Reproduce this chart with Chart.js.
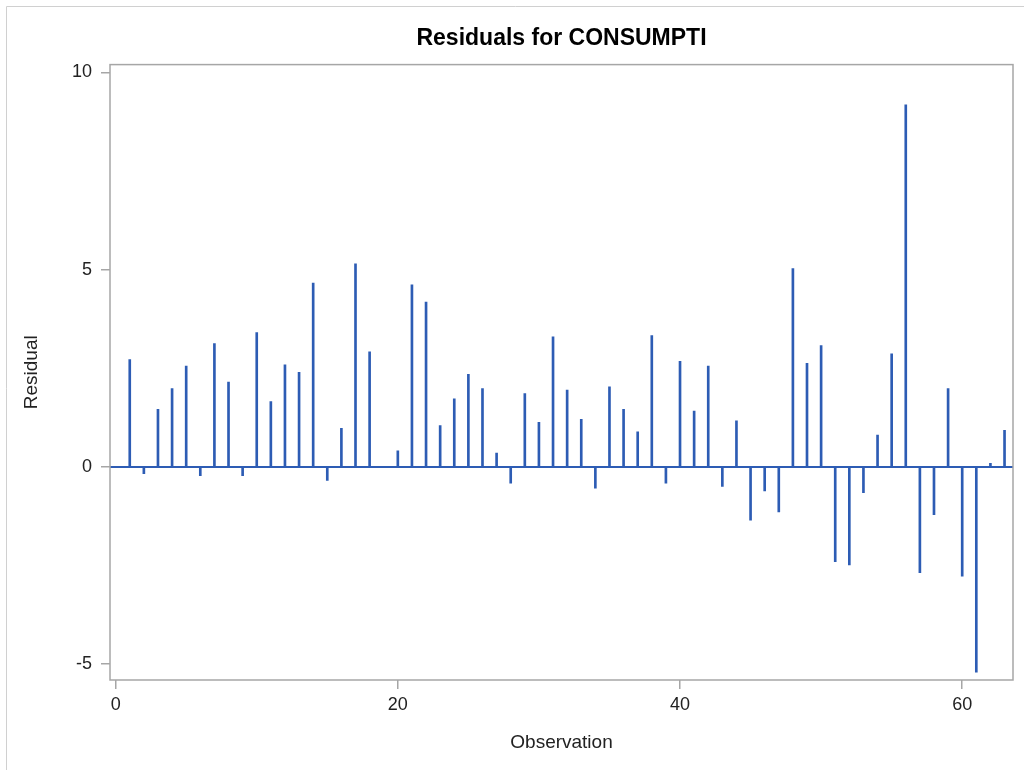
<!DOCTYPE html>
<html>
<head>
<meta charset="utf-8">
<title>Residuals for CONSUMPTI</title>
<script src="https://cdn.jsdelivr.net/npm/chart.js@4/dist/chart.umd.min.js"></script>
<style>
  body { margin: 0; background: #fff; }
  #wrap { position: absolute; left: 0; top: 0; width: 1024px; height: 770px; }
</style>
</head>
<body>
<div id="wrap"><canvas id="resChart" width="1024" height="770"></canvas></div>
<script>
// observation numbers and their residuals
var observations = [1, 2, 3, 4, 5, 6, 7, 8, 9, 10,
                    11, 12, 13, 14, 15, 16, 17, 18, 19, 20,
                    21, 22, 23, 24, 25, 26, 27, 28, 29, 30,
                    31, 32, 33, 34, 35, 36, 37, 38, 39, 40,
                    41, 42, 43, 44, 45, 46, 47, 48, 49, 50,
                    51, 52, 53, 54, 55, 56, 57, 58, 59, 60,
                    61, 62, 63];
var residuals = [2.72, -0.17, 1.46, 1.99, 2.56, -0.22, 3.13, 2.15, -0.22, 3.41,
                 1.66, 2.59, 2.40, 4.66, -0.34, 0.98, 5.15, 2.92, 0, 0.41,
                 4.62, 4.18, 1.05, 1.73, 2.35, 1.99, 0.35, -0.41, 1.86, 1.13,
                 3.30, 1.95, 1.21, -0.54, 2.03, 1.46, 0.89, 3.33, -0.41, 2.68,
                 1.42, 2.56, -0.49, 1.17, -1.35, -0.61, -1.14, 5.03, 2.63, 3.08,
                 -2.40, -2.48, -0.65, 0.81, 2.87, 9.18, -2.68, -1.21, 1.99, -2.77,
                 -5.20, 0.09, 0.93];
var xTicks = [0, 20, 40, 60];
var yTicks = [-5, 0, 5, 10];

var needleColor = '#2d5cb4';
var frameColor = '#a6a6a6';
var fontFamily = '"Liberation Sans", Arial, sans-serif';

// frame around plot + zero reference line + outer page border
var framePlugin = {
    id: 'frame',
    beforeDraw: function(chart) {
        var ctx = chart.ctx;
        ctx.save();
        ctx.strokeStyle = '#d0d0d0';
        ctx.lineWidth = 1;
        ctx.beginPath();
        ctx.moveTo(6.5, 770);
        ctx.lineTo(6.5, 6.5);
        ctx.lineTo(1024, 6.5);
        ctx.stroke();
        ctx.restore();
    },
    afterDatasetsDraw: function(chart) {
        var ctx = chart.ctx, a = chart.chartArea;
        var y0 = chart.scales.y.getPixelForValue(0);
        ctx.save();
        ctx.strokeStyle = needleColor;
        ctx.lineWidth = 2;
        ctx.beginPath();
        ctx.moveTo(a.left, y0);
        ctx.lineTo(a.right, y0);
        ctx.stroke();
        ctx.strokeStyle = frameColor;
        ctx.lineWidth = 1.5;
        ctx.strokeRect(a.left, a.top, a.right - a.left, a.bottom - a.top);
        ctx.restore();
    }
};

var points = observations.map(function(o, i) { return { x: o, y: residuals[i] }; });

new Chart(document.getElementById('resChart'), {
    type: 'bar',
    data: {
        datasets: [{
            data: points,
            backgroundColor: needleColor,
            borderWidth: 0,
            barThickness: 2
        }]
    },
    options: {
        responsive: false,
        animation: false,
        devicePixelRatio: 1,
        layout: { padding: { left: 0, top: 0, right: 11, bottom: 0 } },
        plugins: {
            legend: { display: false },
            tooltip: { enabled: false },
            title: {
                display: true,
                text: 'Residuals for CONSUMPTI',
                fullSize: false,
                color: '#000',
                font: { family: fontFamily, size: 23, weight: 'bold' },
                padding: { top: 25, bottom: 12 }
            }
        },
        scales: {
            x: {
                type: 'linear',
                offset: false,
                min: -0.4,
                max: 63.6,
                afterBuildTicks: function(s) { s.ticks = xTicks.map(function(v) { return { value: v }; }); },
                afterFit: function(s) { s.height = 90; },
                grid: { display: true, offset: false, drawOnChartArea: false, drawTicks: true, tickLength: 9, color: frameColor, lineWidth: 1.5 },
                border: { display: false },
                ticks: { color: '#222', font: { family: fontFamily, size: 18 }, padding: 5, maxRotation: 0 },
                title: { display: true, text: 'Observation', color: '#222', font: { family: fontFamily, size: 19 }, padding: { top: 0, bottom: 16 } }
            },
            y: {
                type: 'linear',
                min: -5.4,
                max: 10.2,
                afterBuildTicks: function(s) { s.ticks = yTicks.map(function(v) { return { value: v }; }); },
                afterFit: function(s) { s.width = 110; },
                grid: { display: true, drawOnChartArea: false, drawTicks: true, tickLength: 9, color: frameColor, lineWidth: 1.5 },
                border: { display: false },
                ticks: { color: '#222', font: { family: fontFamily, size: 18 }, padding: 9 },
                title: { display: true, text: 'Residual', color: '#222', font: { family: fontFamily, size: 19 }, padding: { top: 20, bottom: 0 } }
            }
        }
    },
    plugins: [framePlugin]
});
</script>
</body>
</html>
